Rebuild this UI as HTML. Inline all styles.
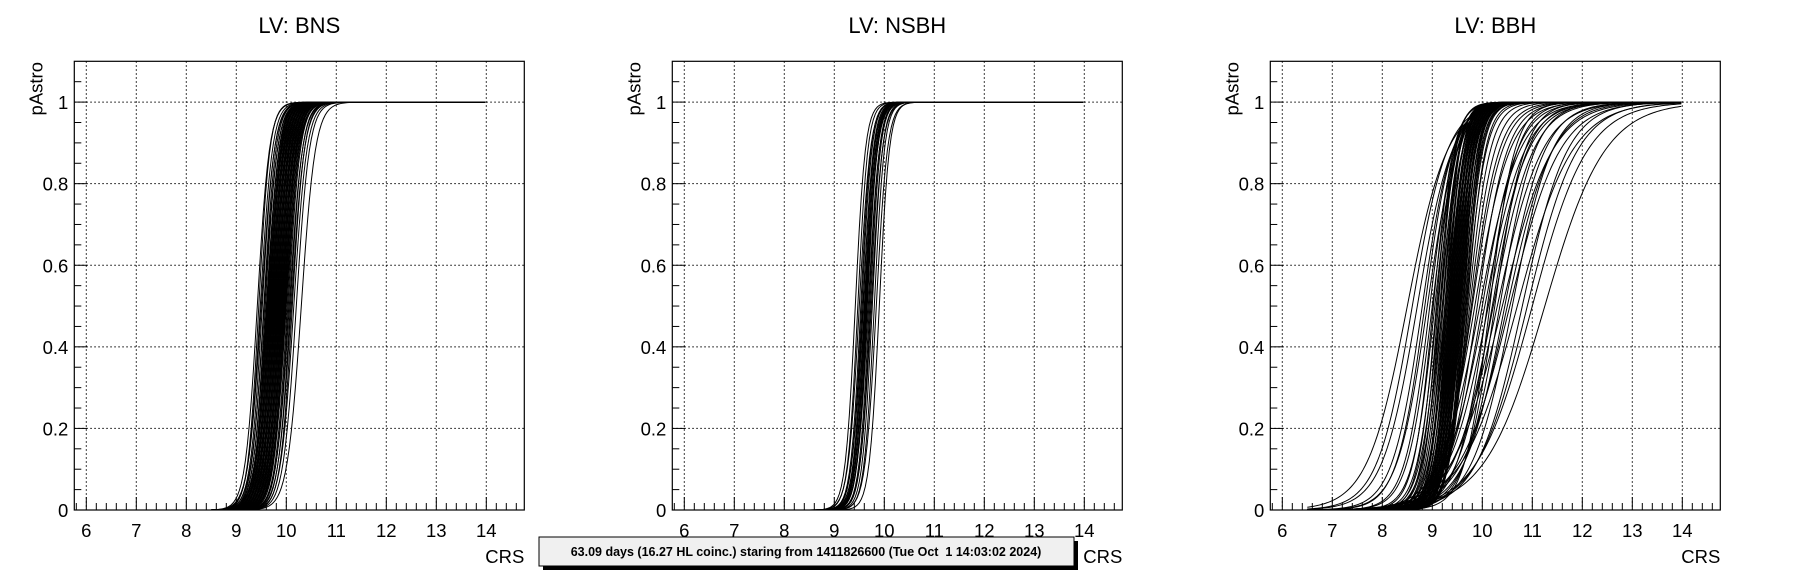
<!DOCTYPE html>
<html><head><meta charset="utf-8"><style>
html,body{margin:0;padding:0;background:#fff;}
svg{display:block;font-family:"Liberation Sans",Arial,sans-serif;}
</style></head><body>
<svg id="chart" width="1796" height="572" viewBox="0 0 1796 572"></svg>
<script>
// ---- data ----
const panelTitles = ["LV: BNS", "LV: NSBH", "LV: BBH"];
const xTicks = [6,7,8,9,10,11,12,13,14];
const yTicks = [0,0.2,0.4,0.6,0.8,1];
const yTickLabels = ["0","0.2","0.4","0.6","0.8","1"];
const curveStart = [8.5, 8.5, 6.5];
const curveEnd = 14;
// BNS logistic midpoints and widths
const bnsMid = [9.42,9.45,9.48,9.5,9.52,9.55,9.56,9.58,9.6,9.61,9.62,9.63,9.64,9.65,9.66,9.67,9.68,9.69,9.7,9.71,9.72,9.73,9.74,9.75,9.76,9.77,9.78,9.79,9.8,9.81,9.82,9.83,9.84,9.85,9.86,9.87,9.88,9.89,9.9,9.91,9.92,9.93,9.94,9.95,9.96,9.97,9.98,9.99,10.0,10.02,10.04,10.06,10.08,10.1,10.12,10.15,10.2,10.3];
const bnsWid = [0.12,0.11,0.12,0.13,0.12,0.12,0.13,0.12,0.13,0.12,0.12,0.13,0.12,0.13,0.12,0.12,0.13,0.12,0.13,0.12,0.12,0.13,0.12,0.13,0.12,0.12,0.13,0.12,0.13,0.12,0.12,0.13,0.12,0.13,0.12,0.12,0.13,0.12,0.13,0.12,0.12,0.13,0.12,0.13,0.12,0.12,0.13,0.12,0.13,0.12,0.12,0.13,0.12,0.13,0.12,0.13,0.13,0.14];
// NSBH
const nsbhMid = [9.42,9.47,9.5,9.53,9.55,9.57,9.58,9.6,9.61,9.62,9.63,9.64,9.65,9.66,9.68,9.7,9.72,9.74,9.76,9.8,9.84,9.9];
const nsbhWid = [0.1,0.1,0.11,0.1,0.1,0.11,0.1,0.1,0.11,0.1,0.1,0.11,0.1,0.1,0.11,0.1,0.1,0.11,0.1,0.1,0.11,0.1];
// BBH
const bbhMid = [8.5,8.6,8.7,8.8,8.85,8.9,8.95,9.0,9.02,9.05,9.08,9.1,9.12,9.15,9.15,9.17,9.2,9.2,9.22,9.25,9.25,9.27,9.28,9.3,9.3,9.32,9.33,9.34,9.35,9.35,9.36,9.37,9.38,9.39,9.4,9.4,9.41,9.42,9.43,9.44,9.45,9.45,9.46,9.47,9.48,9.49,9.5,9.5,9.51,9.52,9.53,9.54,9.55,9.55,9.56,9.57,9.58,9.6,9.6,9.62,9.63,9.65,9.65,9.67,9.68,9.7,9.72,9.75,9.78,9.8,9.85,9.9,9.95,10.0,10.05,10.1,10.12,10.15,10.2,10.22,10.25,10.3,10.35,10.4,10.45,10.5,10.55,10.6,10.7,10.8,10.9,11.0,11.25];
const bbhWid = [0.4,0.35,0.35,0.3,0.28,0.3,0.25,0.25,0.2,0.22,0.18,0.2,0.17,0.2,0.16,0.18,0.17,0.2,0.16,0.18,0.15,0.17,0.16,0.18,0.15,0.16,0.17,0.15,0.18,0.16,0.15,0.17,0.16,0.15,0.18,0.16,0.15,0.17,0.16,0.15,0.18,0.16,0.15,0.17,0.16,0.15,0.18,0.16,0.15,0.17,0.16,0.15,0.18,0.16,0.15,0.17,0.16,0.15,0.18,0.16,0.15,0.17,0.16,0.17,0.2,0.18,0.22,0.25,0.28,0.3,0.35,0.3,0.4,0.35,0.4,0.3,0.4,0.25,0.35,0.4,0.3,0.45,0.35,0.5,0.4,0.45,0.5,0.4,0.55,0.45,0.5,0.55,0.6];
const mids = [bnsMid, nsbhMid, bbhMid];
const wids = [bnsWid, nsbhWid, bbhWid];

// ---- layout ----
const NS = "http://www.w3.org/2000/svg";
const svg = document.getElementById('chart');
const panelLeft = [74.3, 672.3, 1270.3];
const plotW = 450, plotTop = 61.3, plotBot = 510;
const xMin = 5.76, xMax = 14.76, yMin = 0, yMax = 1.1;
function mk(tag, attrs, parent){ const e=document.createElementNS(NS,tag); for(const k in attrs) e.setAttribute(k,attrs[k]); (parent||svg).appendChild(e); return e; }

for (let p=0;p<3;p++){
  const L = panelLeft[p];
  const sx = v => L + (v - xMin)/(xMax - xMin)*plotW;
  const sy = v => plotBot - (v - yMin)/(yMax - yMin)*(plotBot - plotTop);
  const g = mk('g',{});
  
  

  const t = mk('text',{x:L+plotW/2,y:33,'text-anchor':'middle','font-size':22,fill:'#000'},g);
  t.textContent = panelTitles[p];
  
  

  const grid = mk('g',{stroke:'#000','stroke-width':1,'stroke-dasharray':'1.5,2.5'},g);
  
  
  xTicks.forEach(v=>mk('line',{x1:sx(v),x2:sx(v),y1:plotTop,y2:plotBot},grid));
  yTicks.slice(1).forEach(v=>mk('line',{x1:L,x2:L+plotW,y1:sy(v),y2:sy(v)},grid));

  const cg = mk('g',{fill:'none',stroke:'#000','stroke-width':1},g);
  
  
  for (let i=0;i<mids[p].length;i++){
    const m = mids[p][i], w = wids[p][i];
    let d='';
    for (let x=curveStart[p]; x<=curveEnd+1e-9; x+=0.04){
      const y = 1/(1+Math.exp(-(x-m)/w));
      d += (d?'L':'M') + sx(x).toFixed(2) + ',' + sy(y).toFixed(2);
    }
    const path = mk('path',{d:d},cg);
    
    
  }

  const fr = mk('rect',{x:L,y:plotTop,width:plotW,height:plotBot-plotTop,fill:'none',stroke:'#000','stroke-width':1.2},g);
  
  

  const tk = mk('g',{stroke:'#000','stroke-width':1},g);
  
  
  for (let k=29; k<=73; k++){ const v=k/5; const major = (k%5===0);
    mk('line',{x1:sx(v),x2:sx(v),y1:plotBot,y2:plotBot-(major?13:7)},tk); }
  for (let k=0; k<=21; k++){ const v=k*0.05; const major=(k%4===0);
    mk('line',{x1:L,x2:L+(major?13:7),y1:sy(v),y2:sy(v)},tk); }

  xTicks.forEach(v=>{ const e=mk('text',{x:sx(v),y:537,'text-anchor':'middle','font-size':18.5,fill:'#000'},g); e.textContent=String(v);
      });
  yTicks.forEach((v,i)=>{ const e=mk('text',{x:L-6,y:sy(v)+7,'text-anchor':'end','font-size':18.5,fill:'#000'},g); e.textContent=yTickLabels[i];
      });

  const xl = mk('text',{x:L+plotW,y:563,'text-anchor':'end','font-size':18.5,fill:'#000'},g);
  xl.textContent='CRS';
  
  
  const yl = mk('text',{x:0,y:0,'text-anchor':'end','font-size':18.5,fill:'#000',transform:'translate('+(L-32)+',62) rotate(-90)'},g);
  yl.textContent='pAstro';
  
  
}

const box = mk('g',{});


mk('rect',{x:543,y:541,width:535,height:29,fill:'#000'},box);
mk('rect',{x:539,y:537,width:535,height:29,fill:'#f0f0f0',stroke:'#000','stroke-width':1},box);
const bt = mk('text',{x:806,y:556,'text-anchor':'middle','font-size':12.5,'font-weight':'bold',fill:'#000'},box);
bt.textContent='63.09 days (16.27 HL coinc.) staring from 1411826600 (Tue Oct  1 14:03:02 2024)';
bt.setAttribute('xml:space','preserve');
bt.style.whiteSpace='pre';
</script>
</body></html>
